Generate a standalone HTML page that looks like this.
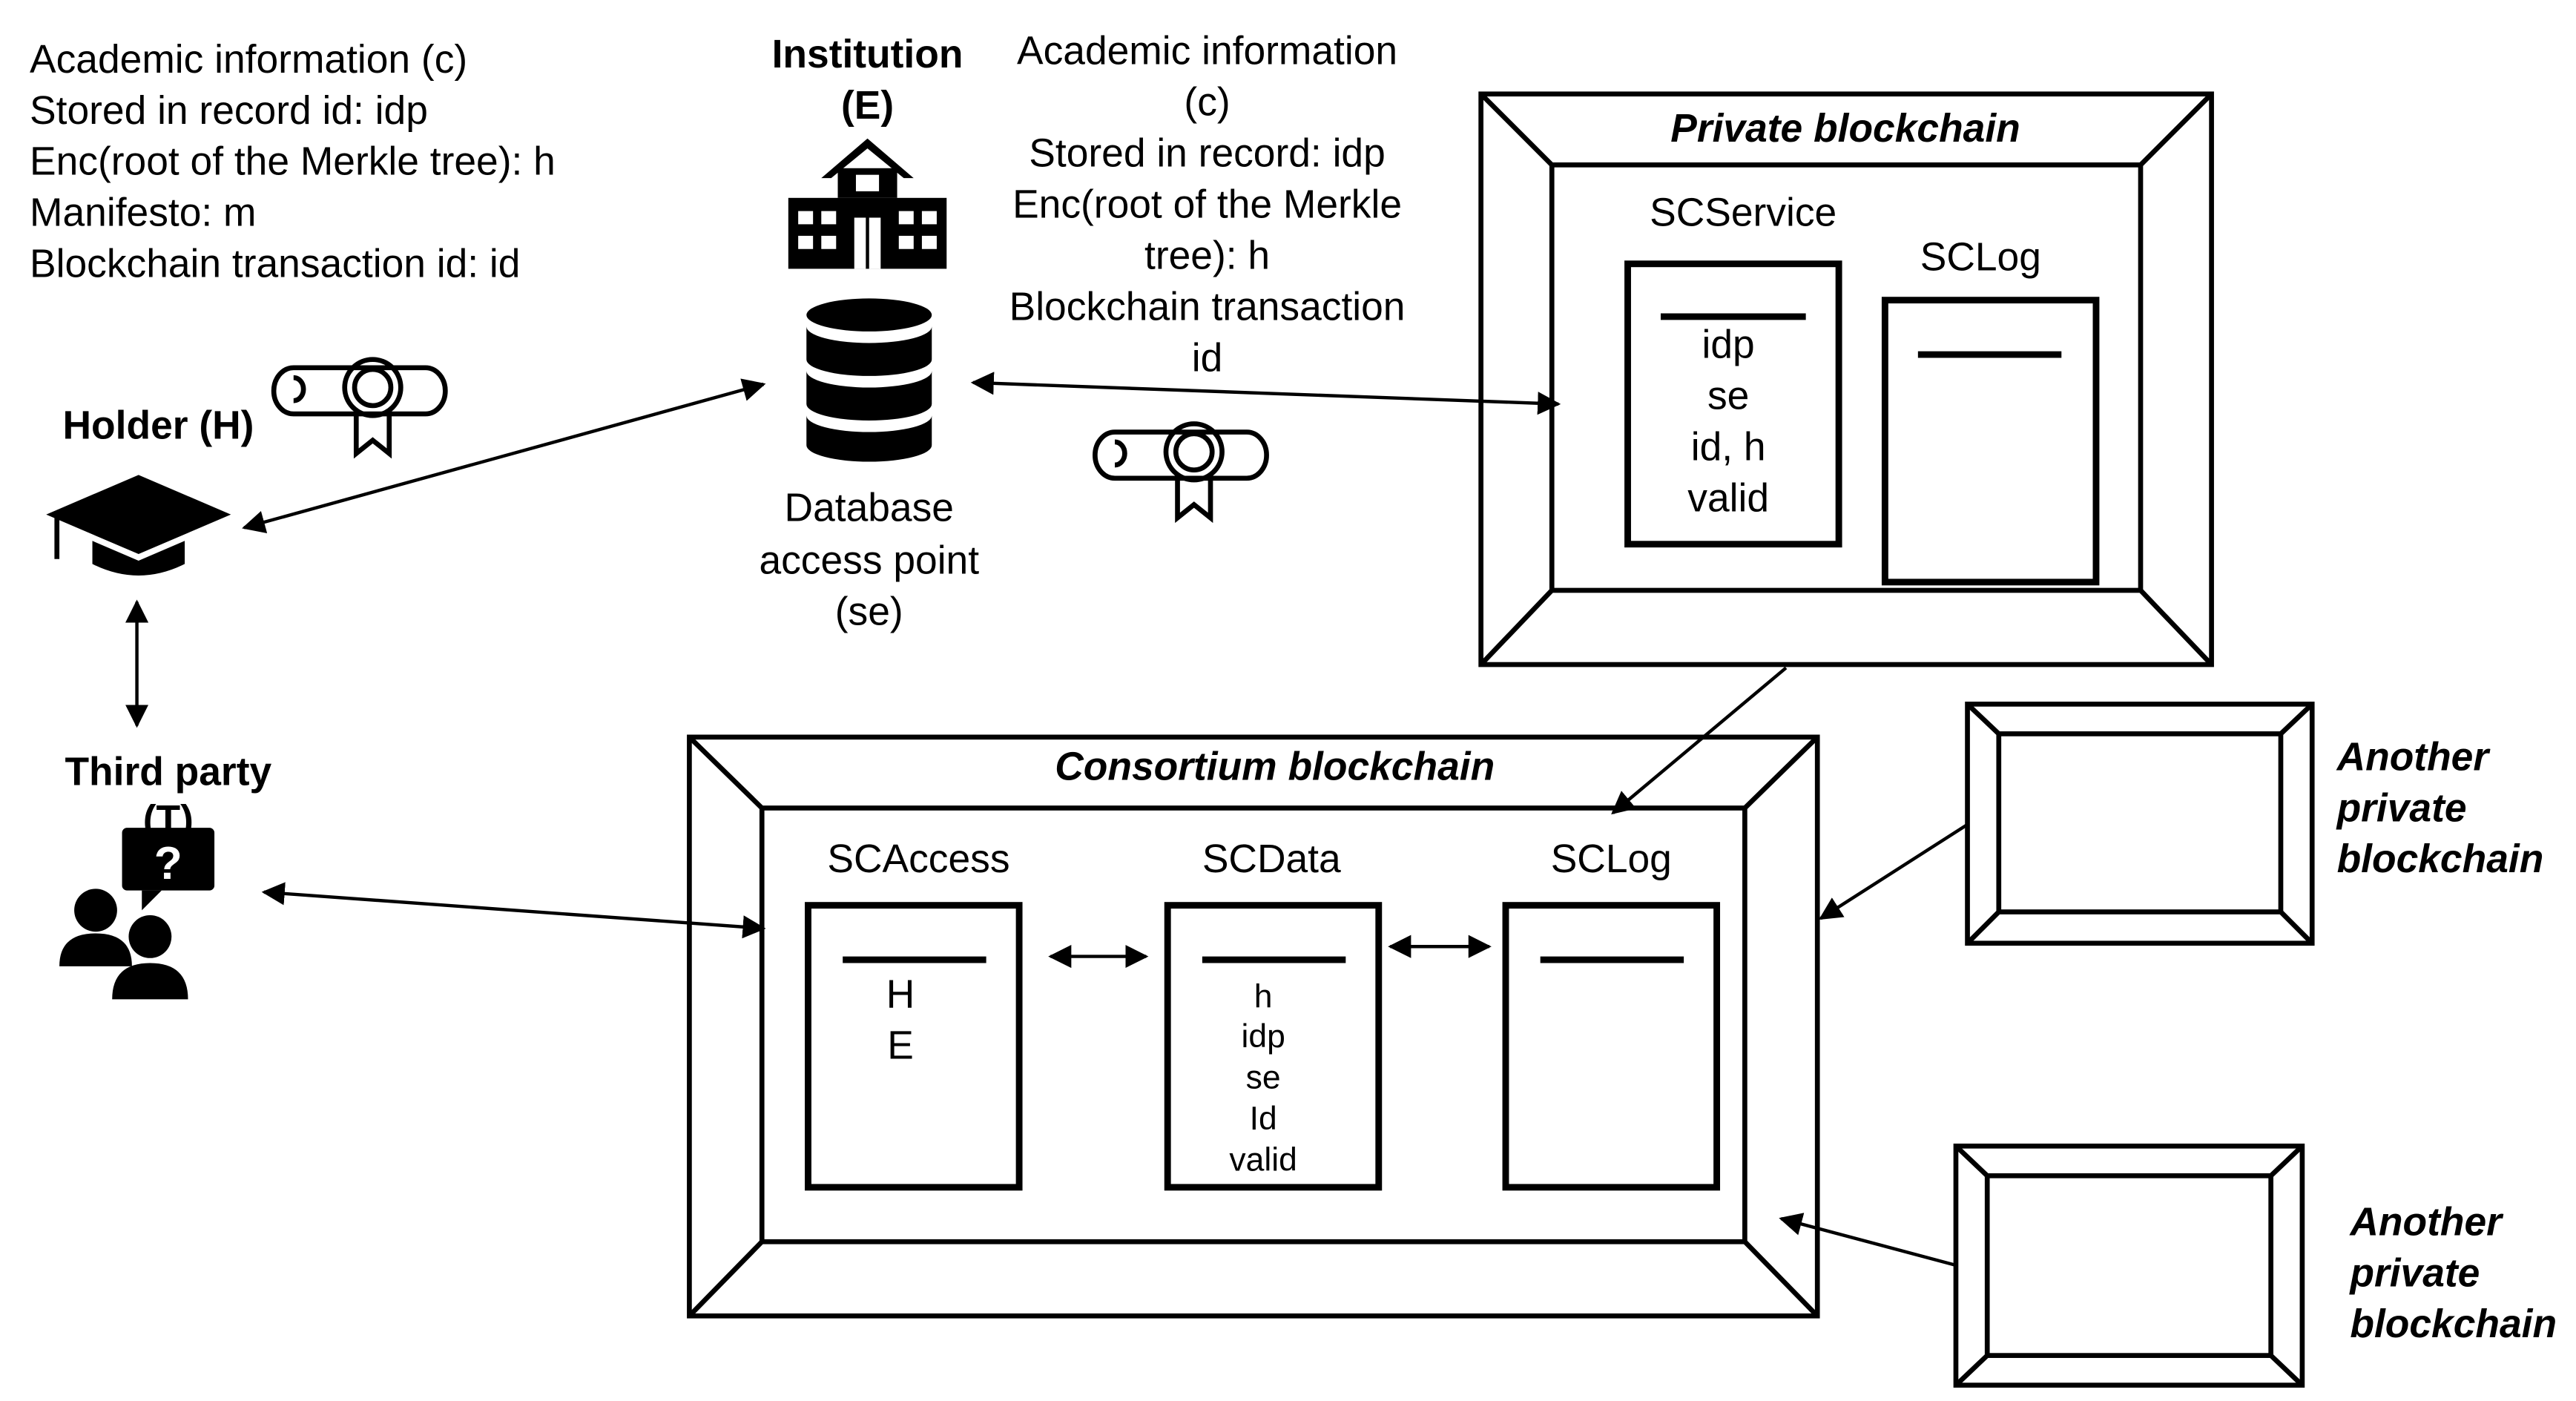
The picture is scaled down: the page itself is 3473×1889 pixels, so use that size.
<!DOCTYPE html>
<html><head><meta charset="utf-8"><style>html,body{margin:0;padding:0;background:#fff}svg{display:block;font-family:"Liberation Sans",Arial,sans-serif}</style></head><body>
<svg width="3473" height="1889" viewBox="0 0 1562 849.6" xmlns="http://www.w3.org/2000/svg" font-family="'Liberation Sans', Arial, sans-serif">
<defs>
<marker id="a" viewBox="0 0 10 10" refX="9" refY="5" markerWidth="7" markerHeight="7" orient="auto-start-reverse"><path d="M0,0 L10,5 L0,10 z" fill="#000"/></marker>
<g id="dip" fill="none" stroke="#000" stroke-width="3">
<path d="M-48,-20 h80 a12,14 0 0 1 0,28 h-80 a12,14 0 0 1 0,-28 z"/>
<path d="M-48,-14 a6,7 0 0 1 0,14"/>
<circle cx="0" cy="-8" r="17"/><circle cx="0" cy="-8" r="11"/>
<path d="M-10,6 v26 l10,-8 l10,8 v-26"/>
</g>
</defs>
<rect width="1562" height="850" fill="#fff"/>
<g font-size="24" fill="#000">
<text x="18" y="44">Academic information (c)</text>
<text x="18" y="75">Stored in record id: idp</text>
<text x="18" y="106">Enc(root of the Merkle tree): h</text>
<text x="18" y="137">Manifesto: m</text>
<text x="18" y="168">Blockchain transaction id: id</text>
<g text-anchor="middle">
<text x="732" y="39">Academic information</text>
<text x="732" y="70">(c)</text>
<text x="732" y="101">Stored in record: idp</text>
<text x="732" y="132">Enc(root of the Merkle</text>
<text x="732" y="163">tree): h</text>
<text x="732" y="194">Blockchain transaction</text>
<text x="732" y="225">id</text>
<text x="527" y="316">Database</text>
<text x="527" y="348">access point</text>
<text x="527" y="379">(se)</text>
</g>
<g font-weight="bold" text-anchor="middle">
<text x="526" y="41">Institution</text>
<text x="526" y="72">(E)</text>
<text x="96" y="266">Holder (H)</text>
<text x="102" y="476">Third party</text>
<text x="102" y="505">(T)</text>
</g>
</g>
<g fill="#000">
<path d="M526,84 L498,108 L504,108 L526,90 L548,108 L554,108 z"/>
<rect x="508" y="102" width="36" height="18"/>
<rect x="478" y="120" width="96" height="43"/>
<g fill="#fff">
<rect x="519" y="106" width="14" height="10"/>
<rect x="484" y="128" width="9" height="8"/><rect x="498" y="128" width="9" height="8"/><rect x="545" y="128" width="9" height="8"/><rect x="559" y="128" width="9" height="8"/>
<rect x="484" y="143" width="9" height="8"/><rect x="498" y="143" width="9" height="8"/><rect x="545" y="143" width="9" height="8"/><rect x="559" y="143" width="9" height="8"/>
<rect x="518" y="132" width="16" height="31"/>
</g>
<rect x="525" y="132" width="2" height="31"/>
</g>
<g fill="#000">
<ellipse cx="527" cy="191" rx="38" ry="10"/>
<path d="M489,198 v20 a38,10 0 0 0 76,0 v-20 a38,10 0 0 1 -76,0z"/>
<path d="M489,225 v20 a38,10 0 0 0 76,0 v-20 a38,10 0 0 1 -76,0z"/>
<path d="M489,252 v18 a38,10 0 0 0 76,0 v-18 a38,10 0 0 1 -76,0z"/>
</g>
<use href="#dip" x="226" y="243"/>
<use href="#dip" x="724" y="282"/>
<g fill="#000">
<path d="M84,288 L28,312 L84,336 L140,312 z"/>
<path d="M56,328 v14 q28,14 56,0 v-14 l-28,12 z"/>
<rect x="33" y="313" width="3" height="26"/>
</g>
<g fill="#000">
<rect x="74" y="502" width="56" height="38" rx="3"/>
<path d="M86,540 l0,12 l12,-12z"/>
<text x="102" y="533" font-size="28" fill="#fff" text-anchor="middle" font-weight="bold">?</text>
<circle cx="58" cy="552" r="13"/>
<path d="M36,586 q0,-20 22,-20 q22,0 22,20 z"/>
<circle cx="91" cy="568" r="13"/>
<path d="M68,606 q0,-22 23,-22 q23,0 23,22 z"/>
</g>
<g stroke="#000" stroke-width="2" fill="none">
<line x1="148" y1="320" x2="463" y2="233" marker-start="url(#a)" marker-end="url(#a)"/>
<line x1="590" y1="232" x2="945" y2="245" marker-start="url(#a)" marker-end="url(#a)"/>
<line x1="83" y1="365" x2="83" y2="440" marker-start="url(#a)" marker-end="url(#a)"/>
<line x1="160" y1="541" x2="463" y2="563" marker-start="url(#a)" marker-end="url(#a)"/>
<line x1="637" y1="580" x2="695" y2="580" marker-start="url(#a)" marker-end="url(#a)"/>
<line x1="843" y1="574" x2="903" y2="574" marker-start="url(#a)" marker-end="url(#a)"/>
<line x1="1083" y1="405" x2="978" y2="493" marker-end="url(#a)"/>
<line x1="1193" y1="500" x2="1104" y2="557" marker-end="url(#a)"/>
<line x1="1185" y1="767" x2="1080" y2="739" marker-end="url(#a)"/>
</g>
<g stroke="#000" fill="none" stroke-width="3">
<rect x="898" y="57" width="443" height="346"/>
<rect x="941" y="100" width="357" height="258"/>
<path d="M898,57 L941,100 M1341,57 L1298,100 M898,403 L941,358 M1341,403 L1298,358"/>
<rect x="418" y="447" width="684" height="351"/>
<rect x="462" y="490" width="596" height="263"/>
<path d="M418,447 L462,490 M1102,447 L1058,490 M418,798 L462,753 M1102,798 L1058,753"/>
<rect x="1193" y="427" width="209" height="145"/>
<rect x="1212" y="445" width="171" height="108"/>
<path d="M1193,427 L1212,445 M1402,427 L1383,445 M1193,572 L1212,553 M1402,572 L1383,553"/>
<rect x="1186" y="695" width="210" height="145"/>
<rect x="1205" y="713" width="172" height="109"/>
<path d="M1186,695 L1205,713 M1396,695 L1377,713 M1186,840 L1205,822 M1396,840 L1377,822"/>
<g stroke-width="4">
<rect x="987" y="160" width="128" height="170"/>
<rect x="1143" y="182" width="128" height="171"/>
<rect x="490" y="549" width="128" height="171"/>
<rect x="708" y="549" width="128" height="171"/>
<rect x="913" y="549" width="128" height="171"/>
<path d="M1007,192 H1095 M1163,215 H1250 M511,582 H598 M729,582 H816 M934,582 H1021"/>
</g>
</g>
<g fill="#000" font-size="24" text-anchor="middle">
<text x="1119" y="86" font-weight="bold" font-style="italic">Private blockchain</text>
<text x="773" y="473" font-weight="bold" font-style="italic">Consortium blockchain</text>
<text x="1057" y="137">SCService</text>
<text x="1201" y="164">SCLog</text>
<text x="1048" y="217">idp</text>
<text x="1048" y="248">se</text>
<text x="1048" y="279">id, h</text>
<text x="1048" y="310">valid</text>
<text x="557" y="529">SCAccess</text>
<text x="771" y="529">SCData</text>
<text x="977" y="529">SCLog</text>
<text x="546" y="611">H</text>
<text x="546" y="642">E</text>
<g font-size="20">
<text x="766" y="611">h</text>
<text x="766" y="635">idp</text>
<text x="766" y="660">se</text>
<text x="766" y="685">Id</text>
<text x="766" y="710">valid</text>
</g>
</g>
<g fill="#000" font-size="24" font-weight="bold" font-style="italic">
<text x="1417" y="467">Another</text>
<text x="1417" y="498">private</text>
<text x="1417" y="529">blockchain</text>
<text x="1425" y="749">Another</text>
<text x="1425" y="780">private</text>
<text x="1425" y="811">blockchain</text>
</g>
</svg>
</body></html>
